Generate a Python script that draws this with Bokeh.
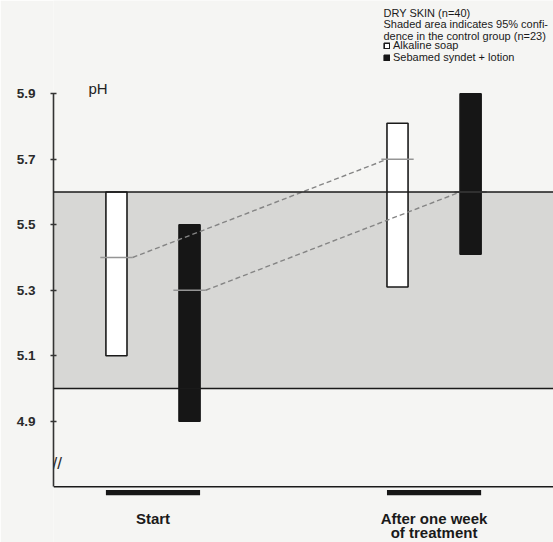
from bokeh.plotting import figure
from bokeh.models import (BoxAnnotation, Span, Label, Legend, LegendItem,
                          FixedTicker, Range1d)
from bokeh.core.properties import value
from bokeh.embed import file_html
from bokeh.resources import INLINE

# ---------------- data ----------------
categories = ["Start", "After one week\nof treatment"]
group_x = [1, 2]
alk_low = [5.10, 5.31]
alk_high = [5.60, 5.81]
alk_mean = [5.40, 5.70]
seb_low = [4.90, 5.41]
seb_high = [5.50, 5.90]
seb_mean = [5.30, 5.60]
control_low = 5.00
control_high = 5.60
y_ticks = [4.9, 5.1, 5.3, 5.5, 5.7, 5.9]
axis_bottom = 4.70
axis_top = 5.90
header_lines = ["DRY SKIN (n=40)",
                "Shaded area indicates 95% confi-",
                "dence in the control group  (n=23)"]
series_names = ["Alkaline soap", "Sebamed syndet + lotion"]

# ---------------- layout ----------------
OFF = 0.13       # bar offset from group centre
BW = 0.075       # bar width
TICK = 0.0575    # half-length of mean tick
FONT = "Liberation Sans"
BG = "#f5f5f3"

p = figure(width=553, height=542, output_backend="svg", toolbar_location=None,
           x_range=Range1d(0.646, 2.425), y_range=Range1d(4.5296, 6.185),
           x_axis_location=None, min_border_left=53, min_border_right=0,
           min_border_top=0, min_border_bottom=0)
p.background_fill_color = BG
p.border_fill_color = BG
p.outline_line_color = None
p.xgrid.visible = False
p.ygrid.visible = False

# control band
p.add_layout(BoxAnnotation(bottom=control_low, top=control_high, fill_color="#d7d7d5",
                           fill_alpha=1, line_alpha=0, level="underlay"))
for yv in (control_low, control_high):
    p.add_layout(Span(location=yv, dimension="width", line_color="#1a1a1a", line_width=1.6))
# baseline (x-axis line)
p.add_layout(Span(location=axis_bottom, dimension="width", line_color="#1a1a1a", line_width=1.6))

alk_x = [g - OFF for g in group_x]
seb_x = [g + OFF for g in group_x]

alk = p.vbar(x=alk_x, bottom=alk_low, top=alk_high, width=BW, fill_color="#ffffff",
             line_color="#1a1a1a", line_width=1.6)
seb = p.vbar(x=seb_x, bottom=seb_low, top=seb_high, width=BW, fill_color="#161616",
             line_color="#161616", line_width=1.6)

# mean ticks and dashed connectors
for xs, ms in ((alk_x, alk_mean), (seb_x, seb_mean)):
    p.segment(x0=[x - TICK for x in xs], x1=[x + TICK for x in xs], y0=ms, y1=ms,
              line_color="#959595", line_width=1.4)
    p.segment(x0=[xs[0] + TICK], x1=[xs[1] - BW / 2], y0=[ms[0]], y1=[ms[1]],
              line_color="#858585", line_width=1.4, line_dash="5 3")

# group markers below the baseline
p.quad(left=[g - OFF - BW / 2 for g in group_x], right=[g + OFF + BW / 2 for g in group_x],
       bottom=[axis_bottom - 0.026] * 2, top=[axis_bottom - 0.010] * 2,
       fill_color="#161616", line_color=None)

# category labels
p.text(x=group_x, y=[axis_bottom - 0.070] * 2, text=categories, text_align="center",
       text_baseline="top", text_font=value(FONT), text_font_size="15px",
       text_font_style="bold", text_color="#1a1a1a", text_line_height=0.87)

# y axis
ya = p.yaxis[0]
ya.ticker = FixedTicker(ticks=y_ticks)
ya.bounds = (axis_bottom, axis_top)
ya.axis_line_width = 1.6
ya.axis_line_color = "#333333"
ya.major_tick_line_color = "#333333"
ya.major_tick_line_width = 1.5
ya.major_tick_in = 3
ya.major_tick_out = 3
ya.minor_tick_line_color = None
ya.major_label_standoff = 15
ya.major_label_text_font = FONT
ya.major_label_text_font_size = "13.5px"
ya.major_label_text_font_style = "bold"
ya.major_label_text_color = "#2a2a2a"

# axis break mark
p.add_layout(Label(x=-1, y=79, x_units="screen", y_units="screen", text="//",
                   text_font=FONT, text_font_size="17px", text_color="#2a2a2a",
                   text_baseline="middle"))

# pH label
p.add_layout(Label(x=35, y=454, x_units="screen", y_units="screen", text="pH",
                   text_font=FONT, text_font_size="15px", text_color="#222222",
                   text_baseline="middle"))

# header text, one label per line
for i, line in enumerate(header_lines):
    p.add_layout(Label(x=330, y=529.5 - 11.3 * i, x_units="screen", y_units="screen",
                       text=line, text_font=FONT, text_font_size="11px",
                       text_color="#1a1a1a", text_baseline="middle"))

legend = Legend(items=[LegendItem(label=series_names[0], renderers=[alk]),
                       LegendItem(label=series_names[1], renderers=[seb])],
                location=(330, 479), orientation="vertical",
                background_fill_alpha=0, border_line_color=None,
                glyph_width=7, glyph_height=7, label_text_font=FONT,
                label_text_font_size="11px", label_text_color="#1a1a1a",
                label_text_line_height=0.85,
                label_height=9, label_standoff=3, spacing=0, padding=0, margin=0)
p.add_layout(legend)

open("out.html", "w").write(file_html(p, INLINE))
